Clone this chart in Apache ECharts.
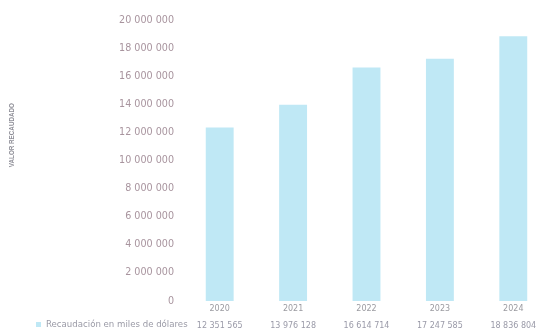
<!DOCTYPE html>
<html><head><meta charset="utf-8">
<script src="https://cdn.jsdelivr.net/npm/echarts@6/dist/echarts.min.js"></script>
<style>html,body{margin:0;padding:0;background:#fff}#c{width:541px;height:332px}</style>
</head><body><div id="c"></div>
<script>
var years = ['2020','2021','2022','2023','2024'];
var values = [12351565, 13976128, 16614714, 17247585, 18836804];
var seriesName = 'Recaudación en miles de dólares';
var axisTitle = 'VALOR RECAUDADO';
var yMax = 20000000, yStep = 2000000;

function fmt(v){ return String(v).replace(/\B(?=(\d{3})+(?!\d))/g,' '); }
var chart = echarts.init(document.getElementById('c'), null, {renderer:'canvas'});
chart.setOption({
  animation:false,
  backgroundColor:'#ffffff',
  textStyle:{fontFamily:'DejaVu Sans'},
  grid:{left:183, width:367, top:20, bottom:31, outerBoundsMode:'none', containLabel:false},
  legend:{left:31, top:315, itemWidth:5, itemHeight:5, itemGap:3,
    icon:'rect',
    textStyle:{fontSize:8.6, color:'#9a9aa6'}, data:[seriesName]},
  graphic:[{type:'text', left:9, top:103, rotation:Math.PI/2, style:{
    text:axisTitle, font:'bold 6.3px Liberation Sans', fill:'#8f8f98'}}],
  xAxis:{type:'category', data:years,
    axisLine:{show:false}, axisTick:{show:false},
    axisLabel:{margin:-1, interval:0,
      formatter:function(v,i){ return '{y|'+v+'}\n{v|'+fmt(values[i])+'}'; },
      rich:{y:{fontSize:8, color:'#9a9aa0', lineHeight:17},
            v:{fontSize:8, color:'#9a9aa8', lineHeight:17}}}},
  yAxis:{type:'value', min:0, max:yMax, interval:yStep,
    axisLine:{show:false}, axisTick:{show:false}, splitLine:{show:false},
    axisLabel:{margin:9, fontSize:9.6, color:'#a8949e', formatter:function(v){return fmt(v);}}},
  series:[{type:'bar', name:seriesName, data:values, barWidth:'38%',
    itemStyle:{color:'#bfe8f5'}}]
});
</script></body></html>
